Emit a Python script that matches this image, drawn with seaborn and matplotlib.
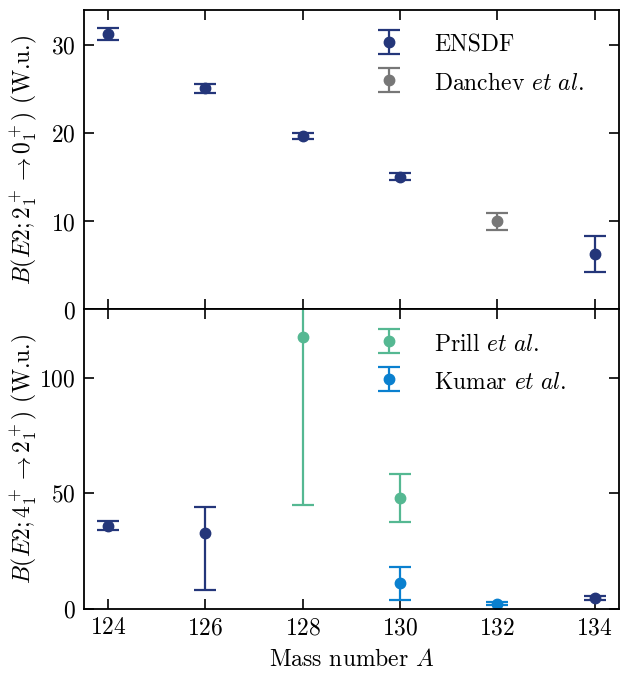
import numpy as np
import matplotlib
matplotlib.use("Agg")
import matplotlib.pyplot as plt
import seaborn as sns

# B(E2; 2+ -> 0+) values (W.u.)
ensdf_a_2 = [124, 126, 128, 130, 134]
ensdf_b2 = [31.3, 25.1, 19.7, 15.1, 6.3]
ensdf_b2_lo = [0.7, 0.5, 0.3, 0.4, 2.0]
ensdf_b2_hi = [0.7, 0.5, 0.3, 0.4, 2.0]

danchev_a = [132]
danchev_b2 = [10.0]
danchev_b2_err = [1.0]

# B(E2; 4+ -> 2+) values (W.u.)
ensdf_a_4 = [124, 126, 134]
ensdf_b4 = [36.0, 33.0, 4.6]
ensdf_b4_lo = [2.0, 25.0, 0.8]
ensdf_b4_hi = [2.0, 11.0, 0.8]

prill_a = [128, 130]
prill_b4 = [117.7, 48.0]
prill_b4_lo = [72.7, 10.5]
prill_b4_hi = [72.7, 10.5]

kumar_a = [130, 132]
kumar_b4 = [11.0, 2.3]
kumar_b4_lo = [7.0, 0.6]
kumar_b4_hi = [7.0, 0.6]

mass_ticks = [124, 126, 128, 130, 132, 134]

c_ensdf = "#24367a"
c_danchev = "#777777"
c_prill = "#55b892"
c_kumar = "#0a80cf"

sns.set_style("ticks")
plt.rcParams.update({
    "font.family": "serif",
    "font.serif": ["cmr10", "DejaVu Serif"],
    "mathtext.fontset": "cm",
    "axes.formatter.use_mathtext": True,
    "font.size": 17,
    "text.color": "black",
    "axes.labelcolor": "black",
    "axes.linewidth": 1.3,
    "xtick.direction": "in",
    "ytick.direction": "in",
    "xtick.major.size": 7,
    "ytick.major.size": 7,
    "xtick.major.width": 1.2,
    "ytick.major.width": 1.2,
    "xtick.major.pad": 6,
    "ytick.major.pad": 6,
    "xtick.top": True,
    "ytick.right": True,
    "axes.edgecolor": "black",
    "xtick.color": "black",
    "ytick.color": "black",
    "axes.unicode_minus": False,
})

fig, (ax1, ax2) = plt.subplots(2, 1, sharex=True, figsize=(6.21, 6.75), dpi=100)
fig.subplots_adjust(left=0.135, right=0.997, top=0.985, bottom=0.098, hspace=0)

eb = dict(fmt="o", ms=7.5, capsize=8, elinewidth=1.6, capthick=1.6)

ax1.errorbar(ensdf_a_2, ensdf_b2, yerr=[ensdf_b2_lo, ensdf_b2_hi], color=c_ensdf, label="ENSDF", **eb)
ax1.errorbar(danchev_a, danchev_b2, yerr=danchev_b2_err, color=c_danchev,
             label=r"Danchev $\mathit{et\ al.}$", **eb)

ax2.errorbar(ensdf_a_4, ensdf_b4, yerr=[ensdf_b4_lo, ensdf_b4_hi], color=c_ensdf, **eb)
ax2.errorbar(prill_a, prill_b4, yerr=[prill_b4_lo, prill_b4_hi], color=c_prill,
             label=r"Prill $\mathit{et\ al.}$", **eb)
ax2.errorbar(kumar_a, kumar_b4, yerr=[kumar_b4_lo, kumar_b4_hi], color=c_kumar,
             label=r"Kumar $\mathit{et\ al.}$", **eb)

ax1.set_xlim(123.5, 134.5)
ax1.set_xticks(mass_ticks)
ax1.set_ylim(0, 34)
ax1.set_yticks([0, 10, 20, 30])
ax2.set_ylim(0, 129.5)
ax2.set_yticks([0, 50, 100])

ax1.set_ylabel(r"$B(E2;2^+_1\rightarrow0^+_1)$ (W.u.)", labelpad=-1)
ax2.set_ylabel(r"$B(E2;4^+_1\rightarrow2^+_1)$ (W.u.)", labelpad=-1)
ax2.set_xlabel(r"Mass number $A$", labelpad=7)

for ax in (ax1, ax2):
    ax.tick_params(labelsize=17)
    ax.legend(loc="upper left", bbox_to_anchor=(0.5, 0.975), frameon=False,
              fontsize=17, handletextpad=0.9, borderaxespad=0.2,
              labelspacing=0.55, handleheight=1.2)
    for s in ax.spines.values():
        s.set_visible(True)

fig.align_ylabels([ax1, ax2])
fig.savefig("out.png", dpi=100)
